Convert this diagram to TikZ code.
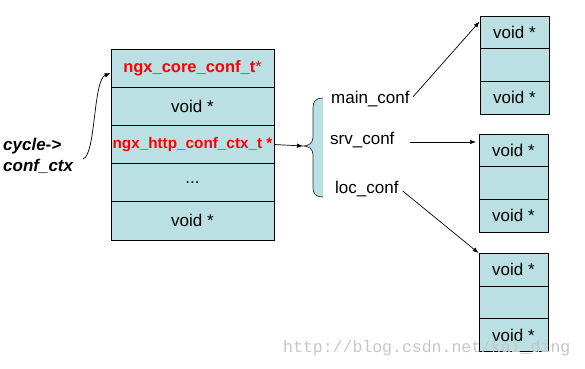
\documentclass[tikz,border=0pt]{standalone}
\usepackage{fontspec}
\setmainfont{Liberation Sans}
\newfontfamily\wmfont{Liberation Mono}
\usetikzlibrary{arrows.meta,calc}
\definecolor{cellblue}{RGB}{186,224,227}
\definecolor{ngxred}{RGB}{255,0,0}
\tikzset{
  cell/.style={draw=black, fill=cellblue, line width=0.8pt, inner sep=0pt, align=center},
  bigcell/.style={cell, minimum width=163pt, minimum height=38.2pt},
  smallcell/.style={cell, minimum width=69pt, minimum height=32.7pt},
  txt/.style={font=\fontsize{17}{20}\selectfont},
  redtxt/.style={text=ngxred, font=\fontsize{16.5}{20}\selectfont\bfseries},
  lbl/.style={inner sep=0pt, font=\fontsize{17}{20}\selectfont},
  arr/.style={-{Latex[length=6pt,width=4.5pt]}, line width=0.7pt}
}
\begin{document}
\begin{tikzpicture}[x=1pt,y=-1pt]
\useasboundingbox (0,0) rectangle (585,368);
% main table
\node[bigcell, redtxt] (r1) at (192.5,68.1) {ngx\_core\_conf\_t{\mdseries*}};
\node[bigcell, txt] (r2) at (192.5,106.3) {void *};
\node[bigcell, redtxt, font=\fontsize{15.3}{18}\selectfont\bfseries] (r3) at (192.5,144.5) {ngx\_http\_conf\_ctx\_t *};
\node[bigcell, txt] (r4) at (192.5,182.7) {...};
\node[bigcell, txt] (r5) at (192.5,220.9) {void *};
% cycle->conf_ctx
\node[lbl, anchor=west, font=\fontsize{17}{20}\selectfont\bfseries\itshape] (cyc) at (3,146) {cycle->};
\node[lbl, anchor=west, font=\fontsize{17}{20}\selectfont\bfseries\itshape] (cctx) at (3,166) {conf\_ctx};
\coordinate (cs) at (83,159);
\coordinate (ce) at ($(r1.west)+(0,5)$);
\draw[arr] (cs) .. controls (96,155) and (93,80) .. (ce);
% brace
\coordinate (bt) at (303,146);
\fill[cellblue] (323,98) .. controls (316,98) and (313,101) .. (313,108) -- (313,137)
  .. controls (313,143) and (309,146) .. (bt) .. controls (309,146) and (313,149) .. (313,155)
  -- (313,188) .. controls (313,194) and (316,197) .. (323,197) -- cycle;
\draw[line width=0.7pt, black!80] (323,98) .. controls (316,98) and (313,101) .. (313,108) -- (313,137)
  .. controls (313,143) and (309,146) .. (bt) .. controls (309,146) and (313,149) .. (313,155)
  -- (313,188) .. controls (313,194) and (316,197) .. (323,197);
\draw[arr] (r3.east) -- (bt);
% labels
\node[lbl, anchor=west] (main) at (331,99) {main\_conf};
\node[lbl, anchor=west] (srv) at (330,140) {srv\_conf};
\node[lbl, anchor=west] (loc) at (335,189) {loc\_conf};
% right boxes
\node[smallcell, txt] (b1a) at (514.5,32.3) {void *};
\node[smallcell, txt] (b1b) at (514.5,65) {};
\node[smallcell, txt] (b1c) at (514.5,97.7) {void *};
\node[smallcell, txt] (b2a) at (513.5,150.3) {void *};
\node[smallcell, txt] (b2b) at (513.5,183) {};
\node[smallcell, txt] (b2c) at (513.5,215.7) {void *};
\node[smallcell, txt] (b3a) at (513.5,269.8) {void *};
\node[smallcell, txt] (b3b) at (513.5,302.5) {};
\node[smallcell, txt] (b3c) at (513.5,335.2) {void *};
% arrows
\draw[arr] ($(main.east)+(3,-2)$) -- ($(b1a.north west)+(0,6)$);
\coordinate (srvend) at (476,142);
\draw[arr] ($(srv.east)+(15,2)$) -- (srvend);
\draw[arr] ($(loc.east)+(4,2)$) -- (b3a.north west);
% watermark
\node[inner sep=0pt, anchor=west, text=black!22, font=\wmfont\fontsize{16.5}{18}\selectfont] (wm) at (283,348) {http://blog.csdn.net/kai\_ding};
\end{tikzpicture}
\end{document}
